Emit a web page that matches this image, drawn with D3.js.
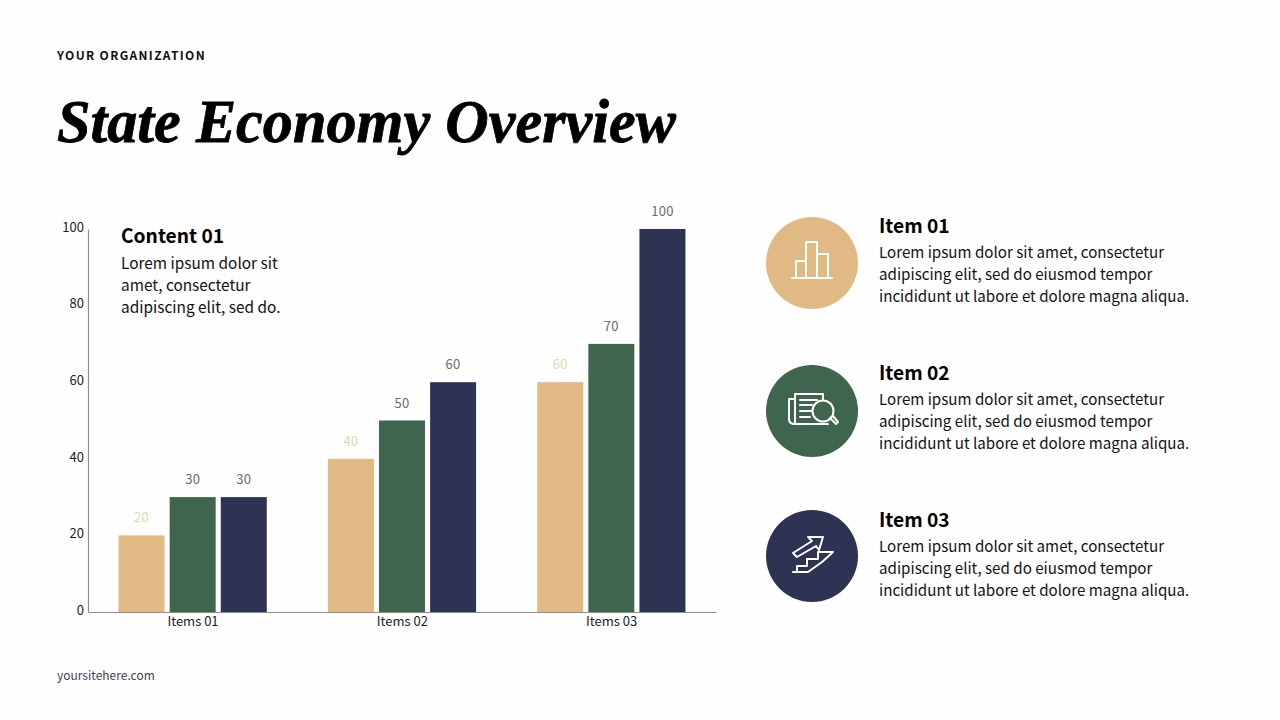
<!DOCTYPE html>
<html><head><meta charset="utf-8">
<script src="https://cdnjs.cloudflare.com/ajax/libs/d3/7.8.5/d3.min.js"></script>
<style>
html,body{margin:0;padding:0;background:#fff;overflow:hidden}
svg{display:block}
text{font-family:"Noto Sans CJK SC","Noto Sans",sans-serif}
</style></head><body>
<svg id="c" width="1280" height="720"></svg>
<script>
const categories = ["Items 01","Items 02","Items 03"];
const seriesNames = ["A","B","C"];
const seriesA = [20,40,60];
const seriesB = [30,50,70];
const seriesC = [30,60,100];
const yTicks = [0,20,40,60,80,100];
const colors = ["#e0b985","#3f654f","#2f3353"];
const labelColors = ["#e8d3ae","#6b6b6b","#6b6b6b"];
const itemTitles = ["Item 01","Item 02","Item 03"];
const itemLines = ["Lorem ipsum dolor sit amet, consectetur","adipiscing elit, sed do eiusmod tempor","incididunt ut labore et dolore magna aliqua."];
const contentLines = ["Lorem ipsum dolor sit","amet, consectetur","adipiscing elit, sed do."];

const svg = d3.select("#c");
svg.append("rect").attr("width",1280).attr("height",720).attr("fill","#fffefe");

svg.append("text").attr("x",57).attr("y",59.5).attr("font-size",12).attr("font-weight",700)
  .attr("letter-spacing",1.34).attr("fill","#111").text("YOUR ORGANIZATION");
svg.append("text").attr("x",57).attr("y",142).attr("font-size",62).attr("font-weight",700)
  .attr("font-style","italic").style("font-family","'Liberation Serif',serif").attr("fill","#000")
  .attr("stroke","#000").attr("stroke-width",0.8)
  .attr("textLength",619).attr("lengthAdjust","spacingAndGlyphs").text("State Economy Overview");
svg.append("text").attr("x",57).attr("y",679.5).attr("font-size",12).attr("fill","#3f4456").text("yoursitehere.com");

const x0 = d3.scaleBand().domain(categories).range([88,716]).paddingInner(0.292).paddingOuter(0.146);
const x1 = d3.scaleBand().domain(seriesNames).range([0,x0.bandwidth()]).paddingInner(0.1);
const y = d3.scaleLinear().domain([0,100]).range([612,229]);
const all = [seriesA,seriesB,seriesC];

const gx = svg.append("g").attr("transform","translate(0,612)")
  .call(d3.axisBottom(x0).tickSize(0).tickPadding(5));
const gy = svg.append("g").attr("transform","translate(88,0)")
  .call(d3.axisLeft(y).tickValues(yTicks).tickSize(0).tickPadding(4));
[gx,gy].forEach(g=>{
  g.selectAll("text").attr("font-size",13).attr("fill","#222").style("font-family",'"Noto Sans CJK SC"');
  g.select(".domain").attr("stroke","#8e8e8e").attr("stroke-width",1.2);
});
gy.selectAll("text").attr("dy","0.17em");
gx.selectAll("text").attr("dx",0.3);

seriesNames.forEach((s,si)=>{
  const g = svg.append("g");
  g.selectAll("rect").data(all[si]).join("rect")
    .attr("x",(d,i)=>x0(categories[i])+x1(s)).attr("width",x1.bandwidth())
    .attr("y",d=>y(d)).attr("height",d=>y(0)-y(d)).attr("fill",colors[si]);
  g.selectAll("text").data(all[si]).join("text")
    .attr("x",(d,i)=>x0(categories[i])+x1(s)+x1.bandwidth()/2).attr("y",d=>y(d)-13)
    .attr("text-anchor","middle").attr("font-size",13).attr("fill",labelColors[si])
    .attr("letter-spacing",0.3).text(d=>d);
});

svg.append("text").attr("x",121).attr("y",242.5).attr("font-size",19.2).attr("font-weight",700).attr("fill","#000").text("Content 01");
contentLines.forEach((t,i)=>svg.append("text").attr("x",121).attr("y",269+i*22).attr("font-size",15.4).attr("fill","#111").text(t));

const rowCy = [263,411,556];
const rowTitleY = [232.5,379.5,526.5];
const iconBg = svg.append("g");
rowCy.forEach((cy,i)=>{
  iconBg.append("circle").attr("cx",812).attr("cy",cy).attr("r",46).attr("fill",colors[i]);
  svg.append("text").attr("x",879).attr("y",rowTitleY[i]).attr("font-size",19.2).attr("font-weight",700).attr("fill","#000").text(itemTitles[i]);
  itemLines.forEach((t,j)=>svg.append("text").attr("x",879).attr("y",rowTitleY[i]+25.5+j*22).attr("font-size",15.15).attr("fill","#111").text(t));
});

const ic = (cy,d)=>svg.append("path").attr("transform",`translate(812,${cy})`).attr("d",d)
  .attr("fill","none").attr("stroke","#fff").attr("stroke-width",2).attr("stroke-linejoin","round").attr("stroke-linecap","round");
// bars icon
ic(rowCy[0],"M-20 15H20M-16 15V-2H-6M-6 15V-21H5V15M5 -9H16V15");
// newspaper + magnifier icon
ic(rowCy[1],"M-17 -12H-23V8Q-23 13 -17 13H16M-17 13V-17H11V-10M-12 -11H5M-12 -6H0M-12 0H-1M-12 6H-2");
svg.append("circle").attr("cx",812+11).attr("cy",rowCy[1]).attr("r",10.5).attr("fill",colors[1]).attr("stroke","#fff").attr("stroke-width",2);
ic(rowCy[1],"M18 7L21 5L26 11L24 13Z");
// arrow + stairs icon
ic(rowCy[2],"M-19 -3L0 -15L-4 -19H11L7 -6L4 -10L-15 1Z");
ic(rowCy[2],"M21 -4H6V3H-5V10H-15V16M-19 16H-4L10 6L20 -3");
</script>
</body></html>
